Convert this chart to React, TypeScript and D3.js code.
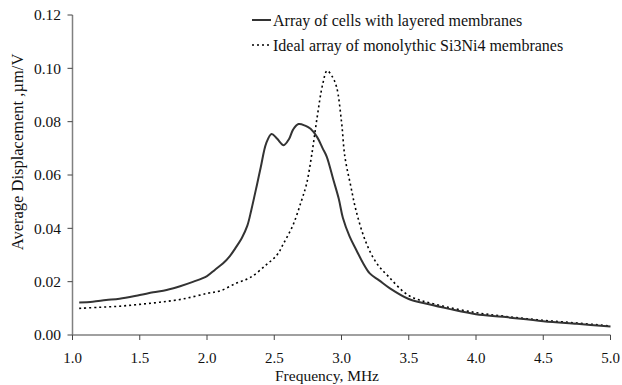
import { useMemo } from 'react';
import * as d3 from 'd3';

// Array of cells with layered membranes (solid)
const layeredFreq = [1.05, 1.15, 1.25, 1.35, 1.5, 1.6, 1.7, 1.8, 1.9, 2.0, 2.06, 2.12, 2.17, 2.21, 2.26, 2.3, 2.33, 2.37, 2.4, 2.44, 2.48, 2.52, 2.57, 2.61, 2.64, 2.68, 2.73, 2.77, 2.82, 2.86, 2.89, 2.94, 2.98, 3.01, 3.06, 3.11, 3.16, 3.21, 3.28, 3.36, 3.5, 3.65, 3.8, 4.0, 4.2, 4.5, 4.75, 5.0];
const layeredDisp = [0.0122, 0.0125, 0.0131, 0.0136, 0.015, 0.016, 0.0169, 0.0183, 0.02, 0.0221, 0.0245, 0.0269, 0.0296, 0.0325, 0.0365, 0.041, 0.047, 0.056, 0.063, 0.0719, 0.0754, 0.0737, 0.0712, 0.0735, 0.077, 0.0791, 0.0785, 0.0773, 0.0741, 0.07, 0.0669, 0.0581, 0.051, 0.044, 0.037, 0.0319, 0.027, 0.0231, 0.0205, 0.0175, 0.0135, 0.0115, 0.0098, 0.0078, 0.0068, 0.0052, 0.0042, 0.0032];

// Ideal array of monolythic Si3Ni4 membranes (dotted)
const idealFreq = [1.05, 1.2, 1.35, 1.5, 1.65, 1.82, 2.0, 2.1, 2.22, 2.32, 2.44, 2.52, 2.57, 2.64, 2.7, 2.74, 2.78, 2.82, 2.86, 2.893, 2.93, 2.963, 3.0, 3.025, 3.067, 3.11, 3.18, 3.26, 3.35, 3.5, 3.7, 4.0, 4.25, 4.5, 4.75, 5.0];
const idealDisp = [0.01, 0.0104, 0.0108, 0.0115, 0.0123, 0.0135, 0.0156, 0.0166, 0.0195, 0.0215, 0.0263, 0.03, 0.0344, 0.0413, 0.05, 0.0566, 0.068, 0.082, 0.094, 0.0991, 0.097, 0.0931, 0.08, 0.0669, 0.0563, 0.0463, 0.035, 0.027, 0.0219, 0.0148, 0.0115, 0.0084, 0.0068, 0.0055, 0.0045, 0.0034];

const xTicks = [1.0, 1.5, 2.0, 2.5, 3.0, 3.5, 4.0, 4.5, 5.0];
const yTicks = [0, 0.02, 0.04, 0.06, 0.08, 0.1, 0.12];
const legendLabels = ['Array of cells with layered membranes', 'Ideal array of monolythic Si3Ni4 membranes'];

const W = 622;
const H = 385;
const FONT = "'Liberation Serif', 'DejaVu Serif', serif";
const AXIS = '#808080';
const txt = { fontFamily: FONT, fill: '#111' };

export default function App() {
  const x = useMemo(() => d3.scaleLinear().domain([1, 5]).range([72.5, 610.5]), []);
  const y = useMemo(() => d3.scaleLinear().domain([0, 0.12]).range([335, 15]), []);

  const line = d3.line<[number, number]>()
    .x(d => x(d[0]))
    .y(d => y(d[1]))
    .curve(d3.curveCatmullRom);

  const layered = layeredFreq.map((f, i) => [f, layeredDisp[i]] as [number, number]);
  const ideal = idealFreq.map((f, i) => [f, idealDisp[i]] as [number, number]);

  return (
    <svg width={W} height={H} style={{ position: 'absolute', left: 0, top: 0, background: '#fff' }}>
      {/* axes */}
      <line x1={x(1)} x2={x(1)} y1={y(0.12)} y2={y(0)} stroke={AXIS} strokeWidth={1.5} />
      <line x1={x(1)} x2={x(5)} y1={y(0)} y2={y(0)} stroke={AXIS} strokeWidth={1.5} />
      {yTicks.map(t => (
        <g key={t}>
          <line x1={x(1) - 5} x2={x(1)} y1={y(t)} y2={y(t)} stroke="#444" strokeWidth={1} />
          <text x={61} y={y(t)} dy="0.35em" textAnchor="end" fontSize={15.5} style={txt}>{t.toFixed(2)}</text>
        </g>
      ))}
      {xTicks.map(t => (
        <g key={t}>
          <line x1={x(t)} x2={x(t)} y1={y(0)} y2={y(0) + 5} stroke="#444" strokeWidth={1} />
          <text x={x(t)} y={363} textAnchor="middle" fontSize={15} style={txt}>{t.toFixed(1)}</text>
        </g>
      ))}

      <text x={327} y={381} textAnchor="middle" fontSize={15.5} style={txt}>Frequency, MHz</text>
      <text transform="translate(23,152) rotate(-90)" textAnchor="middle" fontSize={16.5} style={txt}>Average Displacement ,µm/V</text>

      {/* series */}
      <path d={line(ideal) ?? ''} fill="none" stroke="#000" strokeWidth={1.6} strokeDasharray="2 3" />
      <path d={line(layered) ?? ''} fill="none" stroke="#333" strokeWidth={2} />

      {/* legend */}
      <line x1={252} x2={271} y1={20} y2={20} stroke="#333" strokeWidth={2} />
      <text x={273} y={20} dy="0.35em" fontSize={16} style={txt}>{legendLabels[0]}</text>
      <line x1={252} x2={271} y1={45} y2={45} stroke="#000" strokeWidth={1.6} strokeDasharray="2 3" />
      <text x={273} y={45} dy="0.35em" fontSize={16} style={txt}>{legendLabels[1]}</text>
    </svg>
  );
}
